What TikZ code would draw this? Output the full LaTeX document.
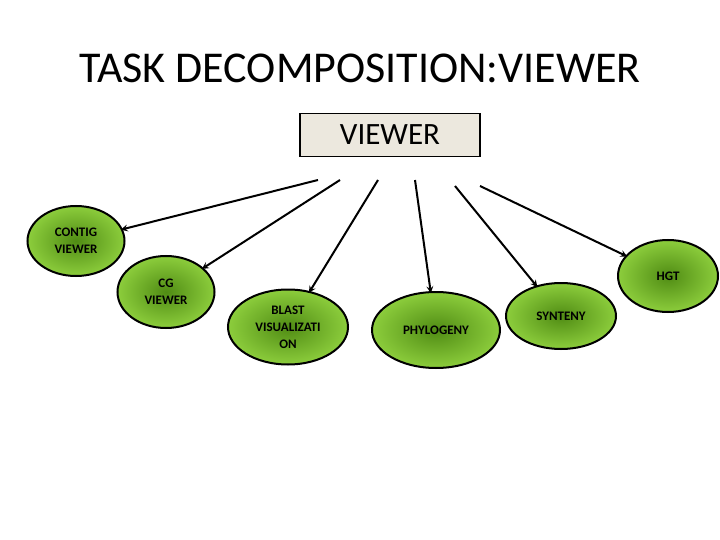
\documentclass[tikz,border=0pt]{standalone}
\usepackage{fontspec}
\setmainfont{Carlito}
\usetikzlibrary{shapes.geometric, arrows}
\definecolor{leafin}{RGB}{80,140,20}
\definecolor{leafout}{RGB}{140,205,60}
\definecolor{boxfill}{RGB}{236,232,222}
\tikzstyle{task} = [ellipse, draw=black, line width=2pt, inner color=leafin, outer color=leafout, font=\fontsize{13}{17}\selectfont\bfseries, align=center, inner sep=0pt]
\tikzstyle{root} = [rectangle, draw=black, line width=1.2pt, fill=boxfill, minimum width=180pt, minimum height=43pt, font=\fontsize{31}{34}\selectfont]
\tikzstyle{arrow} = [line width=2pt,->,>=stealth, shorten >=-2pt]

\begin{document}
\begin{tikzpicture}[x=1pt, y=-1pt]
        \useasboundingbox (0,0) rectangle (720,540);
        % Title
        \node (title) at (360,68) {\fontsize{44}{50}\selectfont TASK DECOMPOSITION:VIEWER};
        % Nodes
        \node (viewer) [root] at (390,135) {VIEWER};
        \node (contig) [task, minimum width=97pt, minimum height=70pt] at (76,241) {CONTIG\\VIEWER};
        \node (cg) [task, minimum width=97pt, minimum height=72pt] at (166,292) {CG\\VIEWER};
        \node (blast) [task, minimum width=120pt, minimum height=75pt] at (288,327) {BLAST\\VISUALIZATI\\ON};
        \node (phylo) [task, minimum width=128pt, minimum height=76pt] at (436,330) {PHYLOGENY};
        \node (synteny) [task, minimum width=110pt, minimum height=66pt] at (561,316) {SYNTENY};
        \node (hgt) [task, minimum width=100pt, minimum height=72pt] at (668,276) {HGT};
        % Start points
        \coordinate (s1) at (318,180);
        \coordinate (s2) at (340,180);
        \coordinate (s3) at (378,180);
        \coordinate (s4) at (415,180);
        \coordinate (s5) at (455,186);
        \coordinate (s6) at (480,186);
        % Arrows
        \draw [arrow] (s1) -- (contig);
        \draw [arrow] (s2) -- (cg);
        \draw [arrow] (s3) -- (blast);
        \draw [arrow] (s4) -- (phylo);
        \draw [arrow] (s5) -- (synteny);
        \draw [arrow] (s6) -- (hgt);
    \end{tikzpicture}
\end{document}
